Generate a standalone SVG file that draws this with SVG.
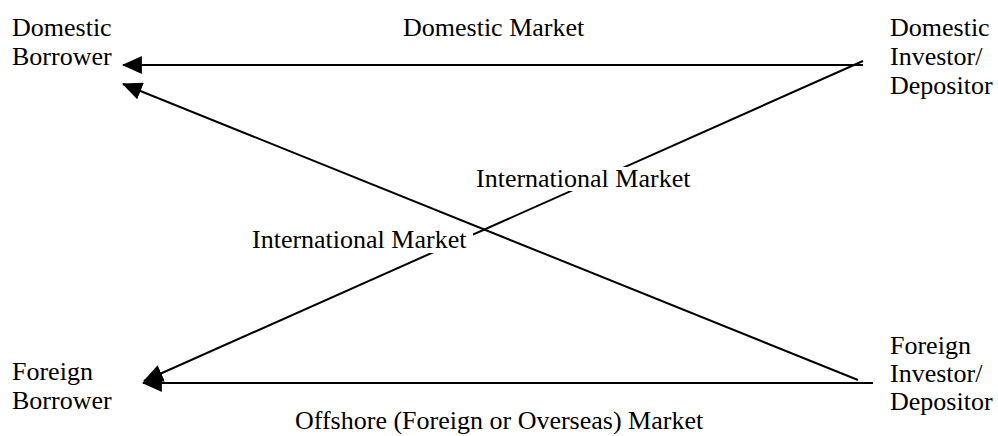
<svg xmlns="http://www.w3.org/2000/svg" width="998" height="436" viewBox="0 0 998 436">
  <style>
    text { font-family: "Liberation Serif", "Times New Roman", serif; font-size: 26px; fill: #000; }
    .flow { stroke: #000; stroke-width: 2; fill: none; marker-end: url(#head); }
    .mask { fill: #fff; }
  </style>
  <defs>
    <marker id="head" markerUnits="userSpaceOnUse" markerWidth="20" markerHeight="18" viewBox="0 0 18 16" refX="17" refY="8" orient="auto">
      <path d="M0,0 L18,8 L0,16 Z" fill="#000"/>
    </marker>
  </defs>
  <rect width="998" height="436" fill="#fff"/>

  <!-- flows between investors and borrowers -->
  <g id="connectors">
    <line class="flow" x1="863" y1="65" x2="123" y2="65"/>
    <line class="flow" x1="858" y1="380" x2="123" y2="84"/>
    <line class="flow" x1="863" y1="61" x2="144" y2="381"/>
    <line class="flow" x1="873" y1="383" x2="143" y2="383"/>
  </g>

  <g id="domestic-borrower">
    <text x="12" y="36">Domestic</text>
    <text x="12" y="65">Borrower</text>
  </g>
  <g id="domestic-investor">
    <text x="890" y="36">Domestic</text>
    <text x="890" y="65">Investor/</text>
    <text x="890" y="94">Depositor</text>
  </g>
  <g id="foreign-borrower">
    <text x="12" y="380">Foreign</text>
    <text x="12" y="409">Borrower</text>
  </g>
  <g id="foreign-investor">
    <text x="890" y="354">Foreign</text>
    <text x="890" y="382">Investor/</text>
    <text x="890" y="410">Depositor</text>
  </g>

  <!-- market labels -->
  <g id="labels">
    <text x="403" y="36">Domestic Market</text>
    <rect class="mask" x="474" y="167" width="222" height="24"/>
    <text x="476" y="187">International Market</text>
    <rect class="mask" x="250" y="231" width="223" height="22"/>
    <text x="252" y="248">International Market</text>
    <text x="295" y="429">Offshore (Foreign or Overseas) Market</text>
  </g>
</svg>
